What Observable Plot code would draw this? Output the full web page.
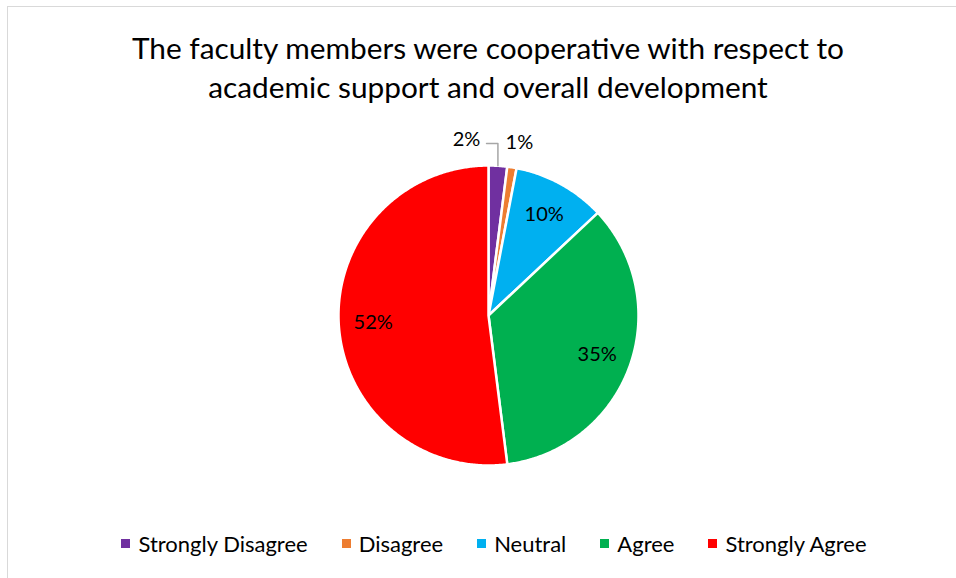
<!DOCTYPE html>
<html>
<head>
<meta charset="utf-8">
<script src="https://cdn.jsdelivr.net/npm/d3@7"></script>
<script src="https://cdn.jsdelivr.net/npm/@observablehq/plot@0.6"></script>
<style>
  html, body { margin: 0; padding: 0; background: #fff; }
  body { width: 956px; height: 578px; overflow: hidden; position: relative; font-family: Lato, "Open Sans", sans-serif; }
  #frame { position: absolute; left: 7px; top: 6px; width: 1000px; height: 700px; border: 1px solid #d9d9d9; box-sizing: border-box; }
  #title { position: absolute; left: 0; top: 28px; width: 976px; text-align: center; font-size: 29.8px; line-height: 39px; color: #000; }
  #chart { position: absolute; left: 0; top: 120px; }
  #legend { position: absolute; left: 0; top: 530px; width: 988px; display: flex; justify-content: center; font-size: 22px; color: #000; }
  .item { display: flex; align-items: center; margin: 0 17px; }
  .sw { width: 9px; height: 9px; margin-right: 8px; }
</style>
</head>
<body>
<div id="frame"></div>
<div id="title">The faculty members were cooperative with respect to<br>academic support and overall development</div>
<div id="chart"></div>
<div id="legend"></div>
<script>
const categories = ["Strongly Disagree", "Disagree", "Neutral", "Agree", "Strongly Agree"];
const values = [2, 1, 10, 35, 52];
const labels = ["2%", "1%", "10%", "35%", "52%"];
const colors = ["#7030A0", "#ED7D31", "#00B0F0", "#00B050", "#FF0000"];

const table = categories.map((c, i) => ({category: c, value: values[i], label: labels[i]}));
const arcs = d3.pie().sort(null).value(d => d.value)(table);

// polygon outline of each slice, sampled along its arc (angle 0 = 12 o'clock, clockwise)
const pt = (a, r) => ({x: r * Math.sin(a), y: r * Math.cos(a)});
const slicePts = [];
for (const a of arcs) {
  const n = Math.max(4, Math.ceil((a.endAngle - a.startAngle) / (Math.PI / 360)));
  slicePts.push({category: a.data.category, ...pt(0, 0)});
  for (let k = 0; k <= n; k++) {
    const t = a.startAngle + (a.endAngle - a.startAngle) * k / n;
    slicePts.push({category: a.data.category, ...pt(t, 1)});
  }
}

// label positions: inside for large slices, outside for small ones
const labelPts = arcs.map((a, i) => {
  const mid = (a.startAngle + a.endAngle) / 2;
  let p;
  if (a.data.value >= 5) p = pt(mid, 0.77);
  else if (i === 1) p = pt(mid + 0.02, 1.17);
  else p = {x: -0.147, y: 1.175};
  return {label: a.data.label, ...p};
});
// leader line for the 2% slice
const a0 = arcs[0];
const m0 = (a0.startAngle + a0.endAngle) / 2;
const tip = pt(m0, 1.0);
const leader = [{x: -0.013, y: 1.147}, {x: tip.x, y: 1.147}, {x: tip.x, y: tip.y}];

const R = 150, cx = 488, cy = 195;
const plot = Plot.plot({
  width: 956,
  height: 400,
  margin: 0,
  x: {domain: [-1, 1], range: [cx - R, cx + R], axis: null},
  y: {domain: [-1, 1], range: [cy + R, cy - R], axis: null},
  color: {domain: categories, range: colors},
  marks: [
    Plot.line(slicePts, {x: "x", y: "y", z: "category", fill: "category", stroke: "white", strokeWidth: 2.5, curve: "linear-closed", strokeLinejoin: "round"}),
    Plot.line(leader, {x: "x", y: "y", stroke: "#a6a6a6", strokeWidth: 1.5}),
    Plot.text(labelPts, {x: "x", y: "y", text: "label", fontSize: 20, fill: "#000", fontFamily: "Lato, sans-serif"})
  ]
});
document.getElementById("chart").appendChild(plot);

const legend = document.getElementById("legend");
categories.forEach((c, i) => {
  const it = document.createElement("div");
  it.className = "item";
  const sw = document.createElement("div");
  sw.className = "sw";
  sw.style.background = colors[i];
  const tx = document.createElement("span");
  tx.textContent = c;
  it.appendChild(sw); it.appendChild(tx);
  legend.appendChild(it);
});
</script>
</body>
</html>
